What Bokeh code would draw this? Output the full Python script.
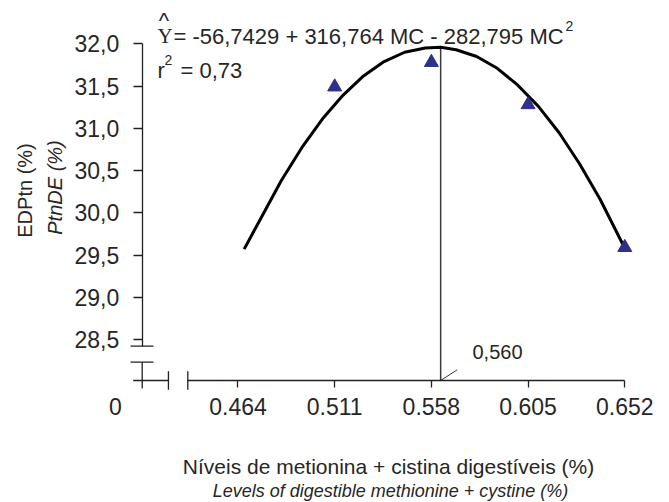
import math
from bokeh.plotting import figure
from bokeh.models import LinearAxis, FixedTicker, Range1d
from bokeh.core.properties import value
from bokeh.embed import file_html
from bokeh.resources import INLINE

# ---------------- data ----------------
levels = [0.464, 0.511, 0.558, 0.605, 0.652]
level_labels = ["0.464", "0.511", "0.558", "0.605", "0.652"]

obs_levels = [0.511, 0.558, 0.605, 0.652]
obs_edptn = [31.49, 31.78, 31.28, 29.59]

curve_x = [0.467, 0.475, 0.485, 0.495, 0.505, 0.515, 0.525, 0.535, 0.545, 0.555,
           0.5625, 0.570, 0.580, 0.590, 0.600, 0.610, 0.620, 0.630, 0.640, 0.652]
curve_y = [29.57, 29.93, 30.38, 30.77, 31.11, 31.39, 31.62, 31.79, 31.90, 31.95,
           31.96, 31.93, 31.85, 31.71, 31.51, 31.26, 30.95, 30.58, 30.16, 29.58]

y_ticks = [28.5, 29.0, 29.5, 30.0, 30.5, 31.0, 31.5, 32.0]
y_tick_labels = ["28,5", "29,0", "29,5", "30,0", "30,5", "31,0", "31,5", "32,0"]

optimum_x = 0.5625
optimum_y = 31.96
optimum_label = "0,560"

eq_hat = "^"
eq_y = "Y"
eq_body = "= -56,7429 + 316,764 MC - 282,795 MC"
eq_sup = "2"
r2_r = "r"
r2_sup = "2"
r2_body = "= 0,73"

y_title = "EDPtn (%)"
y_title_en = "PtnDE (%)"
x_title = "Níveis de metionina + cistina digestíveis (%)"
x_title_en = "Levels of digestible methionine + cystine (%)"
origin_label = "0"

# ---------------- layout ----------------
FONT = "Liberation Sans"
INK = "#262626"
AX = "#202020"

X0, X1 = 0.348563, 0.673731
Y0, Y1 = 26.571598, 32.512426

XAX_Y = 28.01538     # where the x axis sits
YAX_X = 0.417436     # where the y axis sits
YBRK_HI = 28.42130   # y-axis upper piece ends
YBRK_LO = 28.23195   # y-axis lower piece starts
Y_STUB = 27.92071    # y-axis stub below x axis
XBRK_L = 0.430191    # x-axis left piece ends
XBRK_R = 0.439600    # x-axis right piece starts
X_STUB = 0.413062    # x-axis stub left of y axis
BRK_X0, BRK_X1 = 0.411749, 0.422929
BRK_Y0, BRK_Y1 = 28.12544, 27.90533

p = figure(width=669, height=502, output_backend="svg", toolbar_location=None,
           x_axis_location=None, y_axis_location=None, min_border=0,
           x_range=Range1d(X0, X1), y_range=Range1d(Y0, Y1))
p.grid.visible = False
p.outline_line_color = None
p.background_fill_color = "white"
p.border_fill_color = "white"

# x axis
xax = LinearAxis(fixed_location=XAX_Y, bounds=(XBRK_R, levels[-1]),
                 ticker=FixedTicker(ticks=levels))
xax.major_label_overrides = dict(zip(levels, level_labels))
xax.major_tick_out = 7
xax.major_tick_in = 0
xax.minor_tick_line_color = None
xax.axis_line_color = AX
xax.axis_line_width = 1.3
xax.major_tick_line_color = AX
xax.major_tick_line_width = 1.3
xax.major_label_standoff = 10
xax.major_label_text_font = FONT
xax.major_label_text_font_size = "23px"
xax.major_label_text_color = INK
p.add_layout(xax, "below")

# y axis
yax = LinearAxis(fixed_location=YAX_X, bounds=(YBRK_HI, y_ticks[-1]),
                 ticker=FixedTicker(ticks=y_ticks))
yax.major_label_overrides = dict(zip(y_ticks, y_tick_labels))
yax.major_tick_out = 9
yax.major_tick_in = 0
yax.minor_tick_line_color = None
yax.axis_line_color = AX
yax.axis_line_width = 1.3
yax.major_tick_line_color = AX
yax.major_tick_line_width = 1.3
yax.major_label_standoff = 14
yax.major_label_text_font = FONT
yax.major_label_text_font_size = "23px"
yax.major_label_text_color = INK
yax.major_label_orientation = "horizontal"
p.add_layout(yax, "left")

# axis break pieces
bx0 = [YAX_X, X_STUB, BRK_X0, BRK_X0, XBRK_L, XBRK_R]
by0 = [YBRK_LO, XAX_Y, YBRK_HI, YBRK_LO, BRK_Y0, BRK_Y0]
bx1 = [YAX_X, XBRK_L, BRK_X1, BRK_X1, XBRK_L, XBRK_R]
by1 = [Y_STUB, XAX_Y, YBRK_HI, YBRK_LO, BRK_Y1, BRK_Y1]
p.segment(x0=bx0, y0=by0, x1=bx1, y1=by1, line_color=AX, line_width=1.3)

# optimum vertical line and leader
p.segment(x0=[optimum_x], y0=[XAX_Y], x1=[optimum_x], y1=[optimum_y],
          line_color="#3a3a3a", line_width=1.5)
p.segment(x0=[optimum_x], y0=[XAX_Y], x1=[0.570543], y1=[28.14201],
          line_color="#3a3a3a", line_width=1)

# fitted curve and observations
p.line(curve_x, curve_y, line_color="black", line_width=3, line_join="round")
p.scatter(obs_levels, obs_edptn, marker="triangle", size=14,
          fill_color="#2f2f8c", line_color="#2f2f8c")

# texts
def txt(x, y, t, size, align="left", baseline="top", font=FONT,
        style="normal", angle=0.0, color=INK):
    p.text(x=[x], y=[y], text=[t], text_font=value(font), text_font_size=size,
           text_align=align, text_baseline=baseline, text_font_style=style,
           angle=angle, text_color=color)

txt(0.428033, 32.42367, eq_hat, "22px", align="center")
txt(0.424873, 32.23432, eq_y, "21px", font="Liberation Serif")
txt(0.432650, 32.23669, eq_body, "22px")
txt(0.623181, 32.26864, eq_sup, "14px")
txt(0.424873, 31.82604, r2_r, "22px")
txt(0.428275, 31.86627, r2_sup, "14px")
txt(0.436052, 31.82604, r2_body, "22px")

txt(0.590130, 28.43432, optimum_label, "20px", align="center")
txt(0.404458, 27.80473, origin_label, "23px", align="center")

txt(0.360714, 30.26391, y_title, "20px", align="center", baseline="middle",
    angle=math.pi / 2)
txt(0.374837, 30.29941, y_title_en, "20px", align="center", baseline="middle",
    style="italic", angle=math.pi / 2)

txt(0.537150, 27.13491, x_title, "21px", align="center")
txt(0.538122, 26.82012, x_title_en, "18px", align="center", style="italic")

open("out.html", "w").write(file_html(p, INLINE))
